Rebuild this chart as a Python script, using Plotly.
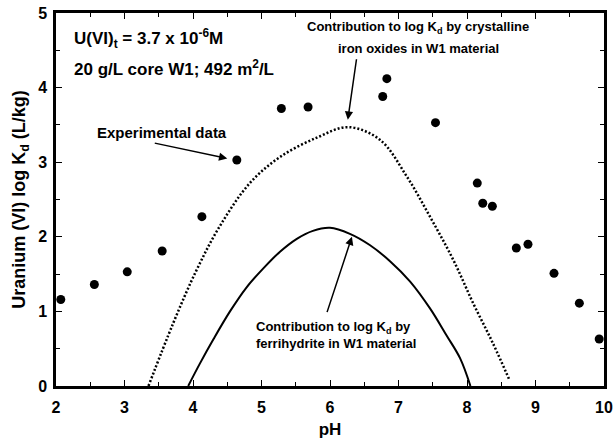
import plotly.graph_objects as go

# Measured uranium(VI) sorption on core W1
ph_obs = [2.07, 2.56, 3.04, 3.55, 4.13, 4.64, 5.29, 5.68, 6.77, 6.83, 7.54,
          8.15, 8.23, 8.37, 8.72, 8.89, 9.27, 9.64, 9.93]
logkd_obs = [1.16, 1.36, 1.53, 1.81, 2.27, 3.03, 3.72, 3.74, 3.88, 4.12, 3.53,
             2.72, 2.45, 2.41, 1.85, 1.90, 1.51, 1.11, 0.63]

# Model contribution: crystalline iron oxides
ph_cryst = [3.35, 3.71, 4.05, 4.39, 4.83, 5.27, 5.81, 6.27, 6.73, 7.12, 7.46,
            7.80, 8.09, 8.38, 8.62]
logkd_cryst = [0.0, 0.84, 1.55, 2.14, 2.72, 3.07, 3.33, 3.47, 3.30, 2.81, 2.27,
               1.69, 1.11, 0.57, 0.08]

# Model contribution: ferrihydrite
ph_ferri = [3.93, 4.10, 4.30, 4.54, 4.78, 5.03, 5.27, 5.51, 5.75, 6.00, 6.29,
            6.58, 6.88, 7.17, 7.46, 7.70, 7.90, 8.05]
logkd_ferri = [0.0, 0.30, 0.63, 1.00, 1.32, 1.58, 1.80, 1.97, 2.08, 2.12, 2.04,
               1.89, 1.67, 1.40, 1.04, 0.68, 0.37, 0.0]

# Axis tick labels
x_ticks = [2, 3, 4, 5, 6, 7, 8, 9, 10]
y_ticks = [0, 1, 2, 3, 4, 5]

FONT = "Liberation Sans, Arial, sans-serif"


def font(size, bold=True):
    return dict(family=FONT, size=size, color="black",
                weight="bold" if bold else "normal")


fig = go.Figure()
fig.add_trace(go.Scatter(
    x=ph_cryst, y=logkd_cryst, mode="lines", line_shape="spline",
    line=dict(color="black", width=2.5, dash="2px,2px"), showlegend=False))
fig.add_trace(go.Scatter(
    x=ph_ferri, y=logkd_ferri, mode="lines", line_shape="spline",
    line=dict(color="black", width=2), showlegend=False))
fig.add_trace(go.Scatter(
    x=ph_obs, y=logkd_obs, mode="markers",
    marker=dict(color="black", size=9), showlegend=False))

txt = dict(xref="x", yref="y", showarrow=False)
annotations = [
    dict(x=2.24, y=4.66, xanchor="left", yanchor="middle", font=font(17),
         text="U(VI)<sub>t</sub> = 3.7 x 10<sup>-6</sup>M", **txt),
    dict(x=2.24, y=4.26, xanchor="left", yanchor="middle", font=font(17),
         text="20 g/L core W1; 492 m<sup>2</sup>/L", **txt),
    dict(x=2.57, y=3.40, xanchor="left", yanchor="middle", font=font(15),
         text="Experimental data", **txt),
    dict(x=7.29, y=4.80, xanchor="center", yanchor="middle", font=font(13),
         text="Contribution to log K<sub>d</sub> by crystalline", **txt),
    dict(x=7.29, y=4.53, xanchor="center", yanchor="middle", font=font(13),
         text="iron oxides in W1 material", **txt),
    dict(x=4.89, y=0.69, xanchor="left", yanchor="middle", align="left",
         font=font(13),
         text="Contribution to log K<sub>d</sub> by<br>"
              "ferrihydrite in W1 material", **txt),
]

arrow = dict(xref="x", yref="y", axref="x", ayref="y", text="", showarrow=True,
             arrowhead=2, arrowsize=1.1, arrowwidth=1.5, arrowcolor="black",
             standoff=0, startstandoff=0)
annotations += [
    dict(x=4.50, y=3.05, ax=3.42, ay=3.26, **arrow),
    dict(x=6.26, y=3.57, ax=6.39, ay=4.40, **arrow),
    dict(x=6.32, y=2.00, ax=5.95, ay=0.97, **arrow),
]

# Framed axes with inward major and minor ticks on all four sides
axis_common = dict(
    showline=True, linecolor="black", linewidth=2.5, mirror="allticks",
    ticks="inside", ticklen=6, tickwidth=1.3, tickcolor="black",
    showgrid=False, zeroline=False, automargin=False,
    tickfont=font(16), tickmode="array",
    minor=dict(ticks="inside", ticklen=4, tickwidth=1.2, tickcolor="black",
               dtick=0.5, showgrid=False),
)

fig.update_xaxes(range=[2, 10], tickvals=x_ticks, ticktext=[str(v) for v in x_ticks],
                 ticklabelstandoff=5,
                 title=dict(text="pH", font=font(17), standoff=10),
                 **axis_common)
fig.update_yaxes(range=[0, 5], tickvals=y_ticks, ticktext=[str(v) for v in y_ticks],
                 ticklabelstandoff=3,
                 title=dict(text="Uranium (VI) log K<sub>d</sub> (L/kg)",
                            font=font(18), standoff=8),
                 **axis_common)

fig.update_layout(
    width=614, height=439,
    margin=dict(l=56, r=10, t=13, b=53),
    paper_bgcolor="white", plot_bgcolor="white",
    annotations=annotations,
)

fig.write_html("out.html")
